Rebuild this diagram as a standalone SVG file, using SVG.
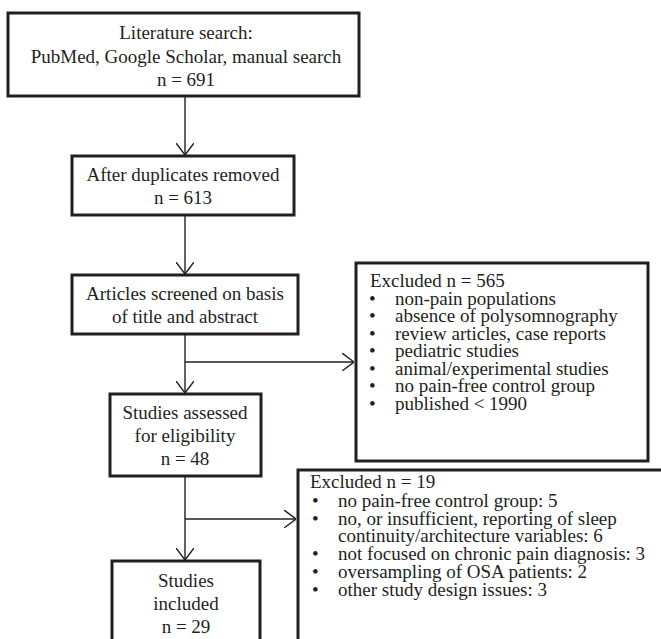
<svg xmlns="http://www.w3.org/2000/svg" width="661" height="639" viewBox="0 0 661 639">
<defs>
<style>
.box{fill:#fff;stroke:#231f20;stroke-width:3}
.ln{fill:none;stroke:#231f20;stroke-width:1.4}
text{font-family:"Liberation Serif","Times New Roman",serif;font-size:19px;fill:#231f20}
.c{text-anchor:middle}
</style>
<marker id="arr" viewBox="0 0 12 18" refX="12" refY="9" markerWidth="12" markerHeight="18" markerUnits="userSpaceOnUse" orient="auto">
<path d="M0,0 L12,9 L0,18" fill="none" stroke="#231f20" stroke-width="1.4"/>
</marker>
</defs>
<rect width="661" height="639" fill="#fff"/>
<g id="connectors">
<line class="ln" x1="185" y1="96" x2="185" y2="155" marker-end="url(#arr)"/>
<line class="ln" x1="185" y1="215" x2="185" y2="274" marker-end="url(#arr)"/>
<line class="ln" x1="185" y1="334" x2="185" y2="393" marker-end="url(#arr)"/>
<line class="ln" x1="185" y1="362" x2="354" y2="362" marker-end="url(#arr)"/>
<line class="ln" x1="185" y1="476" x2="185" y2="560" marker-end="url(#arr)"/>
<line class="ln" x1="185" y1="519" x2="296" y2="519" marker-end="url(#arr)"/>
</g>
<g id="search">
<rect class="box" x="8" y="13" width="351" height="83"/>
<text class="c" x="186" y="39">Literature search:</text>
<text class="c" x="186" y="63">PubMed, Google Scholar, manual search</text>
<text class="c" x="186" y="86">n = 691</text>
</g>
<g id="duplicates">
<rect class="box" x="72" y="156" width="222" height="59"/>
<text class="c" x="183" y="181">After duplicates removed</text>
<text class="c" x="183" y="204">n = 613</text>
</g>
<g id="screened">
<rect class="box" x="72" y="275" width="226" height="59"/>
<text class="c" x="185" y="300">Articles screened on basis</text>
<text class="c" x="185" y="323">of title and abstract</text>
</g>
<g id="excluded1">
<rect class="box" x="356" y="263" width="292" height="198"/>
<text x="370" y="287">Excluded n = 565</text>
<text x="369" y="305">•</text><text x="395" y="305">non-pain populations</text>
<text x="369" y="322">•</text><text x="395" y="322">absence of polysomnography</text>
<text x="369" y="340">•</text><text x="395" y="340">review articles, case reports</text>
<text x="369" y="357">•</text><text x="395" y="357">pediatric studies</text>
<text x="369" y="375">•</text><text x="395" y="375">animal/experimental studies</text>
<text x="369" y="392">•</text><text x="395" y="392">no pain-free control group</text>
<text x="369" y="410">•</text><text x="395" y="410">published &lt; 1990</text>
</g>
<g id="assessed">
<rect class="box" x="110" y="394" width="151" height="82"/>
<text class="c" x="185" y="419">Studies assessed</text>
<text class="c" x="185" y="442">for eligibility</text>
<text class="c" x="185" y="465">n = 48</text>
</g>
<g id="excluded2">
<rect class="box" x="298" y="470" width="400" height="200"/>
<text x="310" y="488">Excluded n = 19</text>
<text x="312" y="507">•</text><text x="338" y="507">no pain-free control group: 5</text>
<text x="312" y="525">•</text><text x="338" y="525">no, or insufficient, reporting of sleep</text>
<text x="338" y="542">continuity/architecture variables: 6</text>
<text x="312" y="560">•</text><text x="338" y="560">not focused on chronic pain diagnosis: 3</text>
<text x="312" y="578">•</text><text x="338" y="578">oversampling of OSA patients: 2</text>
<text x="312" y="596">•</text><text x="338" y="596">other study design issues: 3</text>
</g>
<g id="included">
<rect class="box" x="112" y="561" width="148" height="100"/>
<text class="c" x="186" y="587">Studies</text>
<text class="c" x="186" y="610">included</text>
<text class="c" x="186" y="633">n = 29</text>
</g>
</svg>
